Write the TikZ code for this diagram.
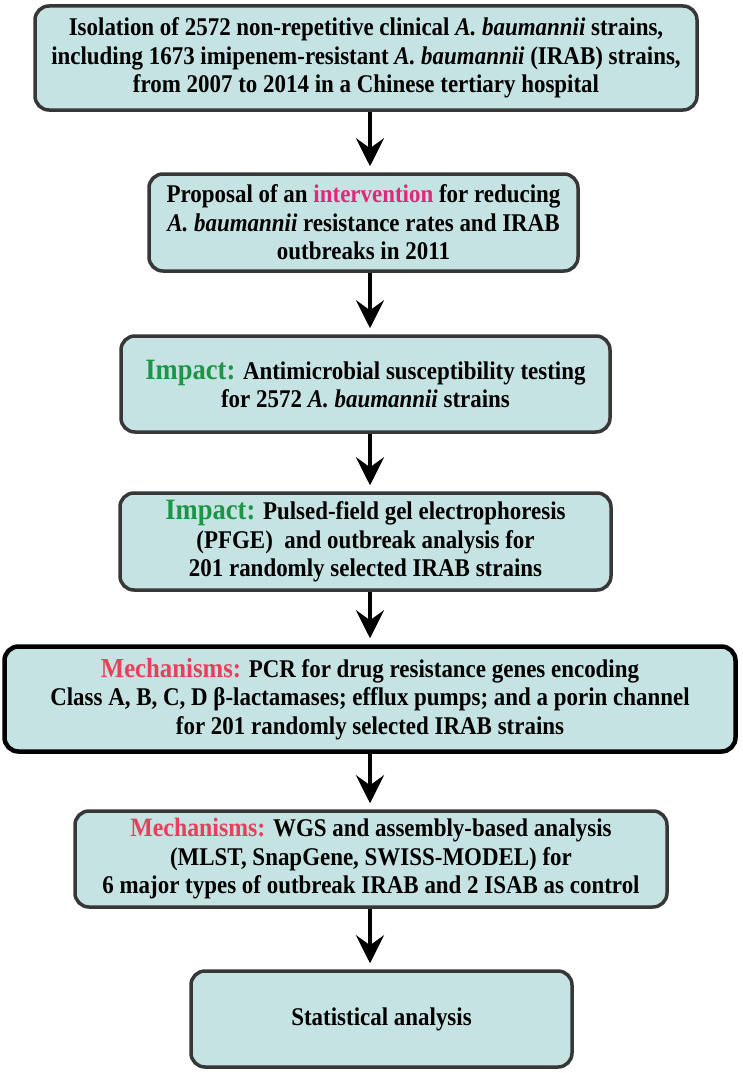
\documentclass[tikz,border=0pt]{standalone}
\usepackage{fontspec}
\setmainfont{Liberation Serif}[FakeStretch=0.9]
\usetikzlibrary{arrows.meta}
\definecolor{boxfill}{RGB}{197,227,227}
\definecolor{boxline}{RGB}{55,55,55}
\definecolor{pinkc}{RGB}{226,40,122}
\definecolor{greenc}{RGB}{28,150,70}
\definecolor{redc}{RGB}{232,64,90}
\newcommand{\lbl}[3]{{\fontsize{#1}{28.5}\selectfont\color{#2}#3}}
\begin{document}
\begin{tikzpicture}[x=1pt,y=-1pt,
  box/.style={draw=boxline, line width=3.5pt, fill=boxfill, rounded corners=14pt,
    inner sep=0pt, align=center, font=\fontsize{25.5}{28.5}\selectfont\bfseries},
  arr/.style={line width=4pt, -{Stealth[length=28pt,width=28pt,inset=10pt]}, shorten >=6pt}
]
\useasboundingbox (0,0) rectangle (742,1073);
\coordinate (ax) at (370,0);

\node[box, minimum width=662pt, minimum height=104pt] (b1) at (366,58)
  {Isolation of 2572 non-repetitive clinical \textit{A. baumannii} strains,\\
   including 1673 imipenem-resistant \textit{A. baumannii} (IRAB) strains,\\
   from 2007 to 2014 in a Chinese tertiary hospital};

\node[box, minimum width=429pt, minimum height=97pt] (b2) at (363.5,222.5)
  {Proposal of an \textcolor{pinkc}{intervention} for reducing\\
   \textit{A. baumannii} resistance rates and IRAB\\
   outbreaks in 2011};

\node[box, minimum width=489pt, minimum height=96pt] (b3) at (365.5,384)
  {\lbl{29.5}{greenc}{Impact:} Antimicrobial susceptibility testing\\
   for 2572 \textit{A. baumannii} strains};

\node[box, minimum width=491pt, minimum height=97pt] (b4) at (365.5,541.5)
  {\lbl{29.5}{greenc}{Impact:} Pulsed-field gel electrophoresis\\
   (PFGE)\ \ and outbreak analysis for\\
   201 randomly selected IRAB strains};

\node[box, draw=black, line width=4.5pt, minimum width=731pt, minimum height=105pt] (b5) at (370,699)
  {\lbl{27.5}{redc}{Mechanisms:} PCR for drug resistance genes encoding\\
   Class A, B, C, D β-lactamases; efflux pumps; and a porin channel\\
   for 201 randomly selected IRAB strains};

\node[box, minimum width=592pt, minimum height=96pt] (b6) at (371,859)
  {\lbl{26.5}{redc}{Mechanisms:} WGS and assembly-based analysis\\
   (MLST, SnapGene, SWISS-MODEL) for\\
   6 major types of outbreak IRAB and 2 ISAB as control};

\node[box, minimum width=381pt, minimum height=96pt] (b7) at (381.5,1019)
  {Statistical analysis};

\draw[arr] (b1.south -| ax) -- (b2.north -| ax);
\draw[arr] (b2.south -| ax) -- (b3.north -| ax);
\draw[arr] (b3.south -| ax) -- (b4.north -| ax);
\draw[arr] (b4.south -| ax) -- (b5.north -| ax);
\draw[arr] (b5.south -| ax) -- (b6.north -| ax);
\draw[arr] (b6.south -| ax) -- (b7.north -| ax);
\end{tikzpicture}
\end{document}
